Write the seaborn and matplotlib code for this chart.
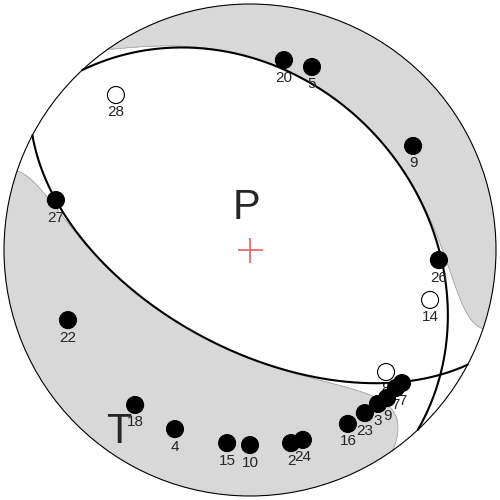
import numpy as np
import matplotlib
matplotlib.use("Agg")
import matplotlib.pyplot as plt
import seaborn as sns
import pandas as pd
from matplotlib.patches import Circle

# ---------------- data ----------------
# nodal planes (strike, dip) in degrees, lower hemisphere, equal-area
plane_strike = [317.0, 117.8]
plane_dip = [31.5, 57.0]
# non-double-couple term around the B axis used for the shading
b_axis_eig = -0.085
b_axis_power = 6

# stations: projected positions (east, north) in unit-circle coordinates
station_label = ["20", "5", "28", "9", "27", "26", "14", "22", "8", "7", "7",
                 "9", "3", "23", "16", "18", "4", "15", "10", "2", "24"]
station_east = [0.138, 0.252, -0.545, 0.663, -0.789, 0.768, 0.732, -0.740, 0.553,
                0.618, 0.593, 0.557, 0.520, 0.467, 0.398, -0.467, -0.305, -0.093,
                0.000, 0.167, 0.215]
station_north = [0.772, 0.744, 0.630, 0.423, 0.203, -0.041, -0.203, -0.285, -0.496,
                 -0.541, -0.561, -0.602, -0.626, -0.663, -0.707, -0.630, -0.728,
                 -0.785, -0.793, -0.785, -0.772]
station_pol = ["C", "C", "D", "C", "C", "C", "D", "C", "D", "C", "C",
               "C", "C", "C", "C", "C", "C", "C", "C", "C", "C"]

# ---------------- helpers ----------------
def vec(trend, plunge):
    t, p = np.radians(trend), np.radians(plunge)
    return np.array([np.cos(p) * np.sin(t), np.cos(p) * np.cos(t), np.sin(p)])

def project(v):
    v = np.asarray(v, dtype=float)
    v = np.where(v[..., 2:3] < 0, -v, v)
    inc = np.arccos(np.clip(v[..., 2], -1, 1))
    r = np.sqrt(2) * np.sin(inc / 2)
    tr = np.arctan2(v[..., 0], v[..., 1])
    return r * np.sin(tr), r * np.cos(tr)

def plane_curve(strike, dip, n=400):
    s, d = np.radians(strike), np.radians(dip)
    sv = np.array([np.sin(s), np.cos(s), 0.0])
    dd = s + np.pi / 2
    dv = np.array([np.cos(d) * np.sin(dd), np.cos(d) * np.cos(dd), np.sin(d)])
    th = np.linspace(0, np.pi, n)
    pts = np.cos(th)[:, None] * sv + np.sin(th)[:, None] * dv
    return project(pts)

def pole(strike, dip):
    return vec(strike + 270.0, 90.0 - dip)

nA = pole(plane_strike[0], plane_dip[0])
nB = pole(plane_strike[1], plane_dip[1])
T = nA - nB
T /= np.linalg.norm(T)
P = nA + nB
P /= np.linalg.norm(P)
B = np.cross(nA, nB)
B /= np.linalg.norm(B)

# ---------------- figure ----------------
sns.set_theme(style="white")
plt.rcParams["font.family"] = ["Liberation Sans", "DejaVu Sans"]

fig = plt.figure(figsize=(5, 5), dpi=100)
ax = fig.add_axes([0, 0, 1, 1])
lim = 250 / 246
ax.set_xlim(-lim, lim)
ax.set_ylim(-lim, lim)
ax.set_aspect("equal")
ax.axis("off")

# shading (compressional quadrants)
g = np.linspace(-1.0, 1.0, 800)
X, Y = np.meshgrid(g, g)
R = np.clip(np.hypot(X, Y), 0, 1)
inc = 2 * np.arcsin(R / np.sqrt(2))
tr = np.arctan2(X, Y)
N = np.stack([np.sin(inc) * np.sin(tr), np.sin(inc) * np.cos(tr), np.cos(inc)], axis=-1)
a = N @ nA
b = N @ nB
c = N @ B
A = -2 * a * b + b_axis_eig * np.abs(c) ** b_axis_power
clip = Circle((0, 0), 1.0, transform=ax.transData, facecolor="none", edgecolor="none")
ax.add_patch(clip)
cf = ax.contourf(X, Y, A, levels=[0, A.max() + 1], colors=["#d8d8d8"], zorder=1)
cf.set_clip_path(clip)
cl = ax.contour(X, Y, A, levels=[0], colors=["#a8a8a8"], linewidths=0.6, zorder=1.5)
cl.set_clip_path(clip)

# primitive circle
ax.add_patch(Circle((0, 0), 1.0, facecolor="none", edgecolor="black", lw=0.8, zorder=3))

# nodal planes
for s, d in zip(plane_strike, plane_dip):
    xs, ys = plane_curve(s, d)
    ax.plot(xs, ys, color="black", lw=1.5, zorder=4)

# centre cross
ax.plot([0], [0], marker="+", ms=18, mew=1.3, color="#ef6a6a", zorder=4)

# P and T axis labels
px, py = project(P)
tx, ty = project(T)
ax.text(px - 0.02, py - 0.02, "P", fontsize=30, ha="center", va="center", zorder=6)
ax.text(tx - 0.025, ty - 0.02, "T", fontsize=30, ha="center", va="center", zorder=6)

# stations
df = pd.DataFrame({"x": station_east, "y": station_north,
                   "pol": station_pol, "label": station_label})
for _, r in df.iterrows():
    ax.text(r.x, r.y - 0.071, r.label, fontsize=11, ha="center", va="center", zorder=5)
sns.scatterplot(data=df, x="x", y="y", hue="pol", palette={"C": "black", "D": "white"},
                edgecolor="black", linewidth=0.8, s=150, legend=False, ax=ax, zorder=7)

fig.savefig("out.png", dpi=100)
